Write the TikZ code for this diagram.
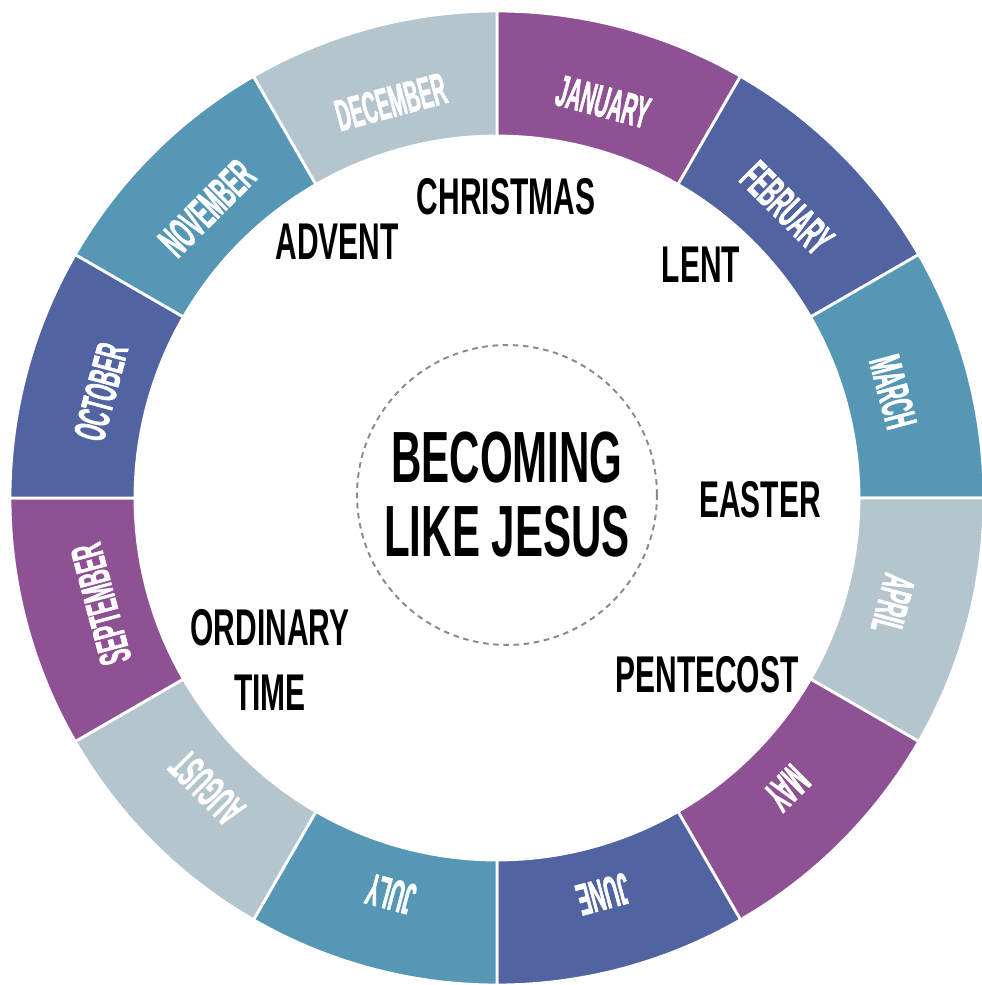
\documentclass[tikz,border=0pt]{standalone}
\usepackage{fontspec}
\newfontfamily\seasonfont{Liberation Sans}[FakeStretch=0.58]
\newfontfamily\monthfont{Liberation Sans}[FakeStretch=0.44, FakeBold=1.2]
\definecolor{monthpurple}{HTML}{8E5294}
\definecolor{monthblue}{HTML}{5163A0}
\definecolor{monthteal}{HTML}{5597B5}
\definecolor{monthlight}{HTML}{B4C5CE}
\definecolor{dashgray}{HTML}{8A8A8A}

\begin{document}
\begin{tikzpicture}[
    x=0.02cm, y=0.02cm,
    season/.style={font=\seasonfont\bfseries\fontsize{29.4}{37}\selectfont, align=center, inner sep=0pt},
    month/.style={text=white, font=\monthfont\bfseries\fontsize{25.5}{26}\selectfont, inner sep=0pt},
    segment/.style={draw=white, line width=1.6pt},
    core/.style={circle, draw=dashgray, line width=1.1pt, dash pattern=on 3.2pt off 2.6pt, minimum size=6cm, align=center,
        font=\seasonfont\bfseries\fontsize{41.3}{42.1}\selectfont}
]

% Marco
\useasboundingbox[fill=white] (-497,-487) rectangle (485,498);

% Anillo de meses
\foreach \mname/\mcol [count=\i from 0] in {JANUARY/monthpurple, FEBRUARY/monthblue, MARCH/monthteal, APRIL/monthlight,
    MAY/monthpurple, JUNE/monthblue, JULY/monthteal, AUGUST/monthlight,
    SEPTEMBER/monthpurple, OCTOBER/monthblue, NOVEMBER/monthteal, DECEMBER/monthlight}{
  \pgfmathsetmacro{\astart}{90-30*\i}
  \pgfmathsetmacro{\aend}{60-30*\i}
  \pgfmathsetmacro{\amid}{75-30*\i}
  \draw[segment, fill=\mcol] (\astart:362) -- (\astart:487) arc[start angle=\astart, end angle=\aend, radius=487]
      -- (\aend:362) arc[start angle=\aend, end angle=\astart, radius=362] -- cycle;
  \node[month, rotate=\amid-90] (month\i) at (\amid:410) {\mname};
}

% Centro
\node[core] (core) at (10,3) {BECOMING\\LIKE JESUS};

% Tiempos litúrgicos
\node[season] (christmas) at (9,301) {CHRISTMAS};
\node[season] (advent) at (-160,256) {ADVENT};
\node[season] (lent) at (204,233) {LENT};
\node[season] (easter) at (263,-2) {EASTER};
\node[season] (pentecost) at (210,-177) {PENTECOST};
\node[season] (ordinary) at (-227,-162) {ORDINARY\\TIME};

\end{tikzpicture}
\end{document}
